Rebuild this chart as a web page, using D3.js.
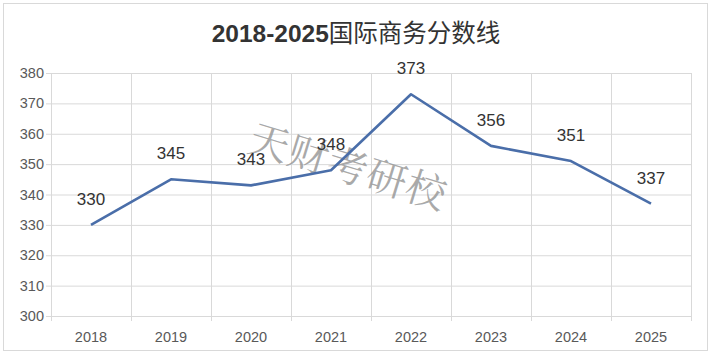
<!DOCTYPE html>
<html><head><meta charset="utf-8">
<script src="https://cdn.jsdelivr.net/npm/d3@7"></script>
<style>body{margin:0;background:#fff;}svg{display:block;}</style>
</head><body>
<svg id="c" width="712" height="353"></svg>
<script>
const years = ["2018","2019","2020","2021","2022","2023","2024","2025"];
const scores = [330,345,343,348,373,356,351,337];
const yTicks = [300,310,320,330,340,350,360,370,380];
const title = "2018-2025国际商务分数线";
const watermark = "天财考研校";

const svg = d3.select("#c");
const W = 712, H = 353;
const m = {l:51, r:21, t:73, b:37};
svg.append("rect").attr("x",3.5).attr("y",3.5).attr("width",W-8).attr("height",H-6)
  .attr("fill","#fff").attr("stroke","#d9d9d9");

const x = d3.scaleBand().domain(years).range([m.l, W-m.r]);
const y = d3.scaleLinear().domain([300,380]).range([H-m.b, m.t]);

// gridlines
svg.append("g").selectAll("line").data(yTicks).join("line")
  .attr("x1",m.l-5).attr("x2",W-m.r).attr("y1",d=>y(d)+0.5).attr("y2",d=>y(d)+0.5)
  .attr("stroke","#d9d9d9");
const bounds = years.map(d=>x(d)).concat([x(years[years.length-1])+x.bandwidth()]);
svg.append("g").selectAll("line").data(bounds).join("line")
  .attr("x1",d=>Math.round(d)+0.5).attr("x2",d=>Math.round(d)+0.5)
  .attr("y1",m.t).attr("y2",H-m.b+5).attr("stroke","#d9d9d9");

// y labels
svg.append("g").selectAll("text").data(yTicks).join("text")
  .attr("x",m.l-7).attr("y",d=>y(d)).attr("dy","0.35em").attr("text-anchor","end")
  .attr("font-family","Liberation Sans, Arial, sans-serif").attr("font-size",14.5).attr("fill","#595959")
  .text(d=>d);
// x labels
svg.append("g").selectAll("text").data(years).join("text")
  .attr("x",d=>x(d)+x.bandwidth()/2).attr("y",H-m.b+21).attr("dy","0.35em").attr("text-anchor","middle")
  .attr("font-family","Liberation Sans, Arial, sans-serif").attr("font-size",14.5).attr("fill","#595959")
  .text(d=>d);

// watermark
svg.append("text").attr("transform","translate(348,167) rotate(17)")
  .attr("text-anchor","middle").attr("dy","0.35em")
  .attr("font-family","Noto Serif CJK SC, Noto Sans CJK SC, serif").attr("font-size",40)
  .attr("letter-spacing",1).attr("fill","#9a9a9a").attr("fill-opacity",0.85)
  .text(watermark);

// line
const pts = years.map((d,i)=>[x(d)+x.bandwidth()/2, y(scores[i])]);
svg.append("path").attr("d",d3.line()(pts)).attr("fill","none")
  .attr("stroke","#4a6ea9").attr("stroke-width",2.6).attr("stroke-linejoin","round");

// labels
svg.append("g").selectAll("text").data(years).join("text")
  .attr("x",d=>x(d)+x.bandwidth()/2).attr("y",(d,i)=>y(scores[i])-26).attr("dy","0.35em")
  .attr("text-anchor","middle").attr("font-family","Liberation Sans, Arial, sans-serif")
  .attr("font-size",17).attr("fill","#333")
  .text((d,i)=>scores[i]);

// title
svg.append("text").attr("x",356).attr("y",33).attr("dy","0.35em").attr("text-anchor","middle")
  .attr("font-family","Liberation Sans, Noto Sans CJK SC, sans-serif").attr("font-size",24.5)
  .attr("fill","#333")
  .call(t=>{
    t.append("tspan").attr("font-weight","bold").text(title.slice(0,9));
    t.append("tspan").attr("font-family","Noto Sans CJK SC, sans-serif").text(title.slice(9));
  });
</script>
</body></html>
